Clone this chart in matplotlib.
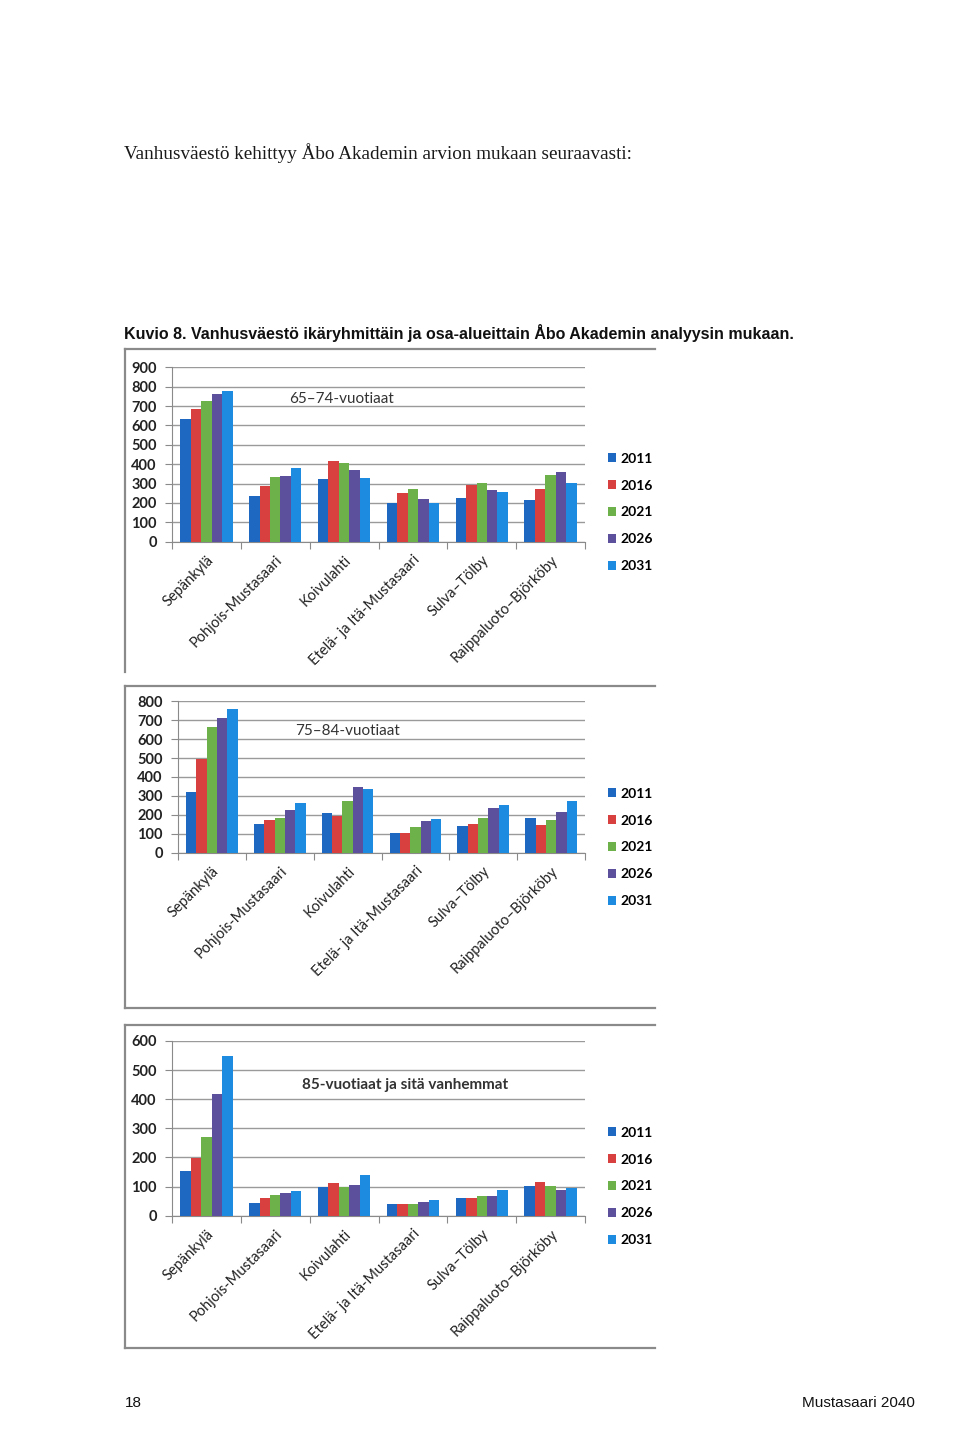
import matplotlib
matplotlib.use("Agg")
import matplotlib.pyplot as plt
import numpy as np
from matplotlib.lines import Line2D

W, H = 960, 1437

areas = ["Sepänkylä", "Pohjois-Mustasaari", "Koivulahti",
         "Etelä- ja Itä-Mustasaari", "Sulva–Tölby", "Raippaluoto–Björköby"]
years = ["2011", "2016", "2021", "2026", "2031"]
colors = ["#1f68c1", "#d8403f", "#6cb14a", "#5c4f9c", "#1d8be0"]

# 65–74-vuotiaat, rows = years, cols = areas
age65_74 = {
    "2011": [633, 236, 324, 201, 225, 213],
    "2016": [683, 287, 417, 253, 293, 270],
    "2021": [726, 334, 408, 270, 305, 346],
    "2026": [761, 339, 368, 219, 267, 358],
    "2031": [778, 380, 329, 201, 258, 305],
}
age75_84 = {
    "2011": [319, 152, 211, 104, 143, 185],
    "2016": [493, 171, 196, 106, 153, 148],
    "2021": [664, 183, 273, 137, 181, 171],
    "2026": [712, 224, 345, 166, 238, 213],
    "2031": [761, 261, 337, 180, 250, 275],
}
age85 = {
    "2011": [155, 44, 100, 41, 60, 101],
    "2016": [199, 62, 113, 41, 62, 115],
    "2021": [270, 71, 100, 41, 68, 103],
    "2026": [417, 78, 105, 46, 68, 87],
    "2031": [548, 86, 141, 53, 87, 95],
}

titles = ["65–74-vuotiaat", "75–84-vuotiaat", "85-vuotiaat ja sitä vanhemmat"]
ymax = [900, 800, 600]
datasets = [age65_74, age75_84, age85]

fig = plt.figure(figsize=(W / 100, H / 100), dpi=100)
fig.patch.set_facecolor("white")

def fx(x):
    return x / W

def fy(y):
    return 1 - y / H

def add_ax(x0, y0, x1, y1):
    return fig.add_axes([fx(x0), fy(y1), (x1 - x0) / W, (y1 - y0) / H])

def fline(xs, ys, color="#8a8a8a", lw=1.6):
    fig.add_artist(Line2D([fx(x) for x in xs], [fy(y) for y in ys],
                          transform=fig.transFigure, color=color, lw=lw))

# page text
fig.text(fx(124), fy(153), "Vanhusväestö kehittyy Åbo Akademin arvion mukaan seuraavasti:",
         family="Liberation Serif", fontsize=13.75, va="center", ha="left", color="#1a1a1a")
fig.text(fx(124), fy(333), "Kuvio 8. Vanhusväestö ikäryhmittäin ja osa-alueittain Åbo Akademin analyysin mukaan.",
         family="Liberation Sans", fontweight="bold", fontsize=11.5, va="center", ha="left",
         color="#111111")
fig.text(fx(125), fy(1403), "18", family="Liberation Sans", fontsize=11, va="center", ha="left",
         color="#111111")
fig.text(fx(915), fy(1403), "Mustasaari 2040", family="Liberation Sans", fontsize=11,
         va="center", ha="right", color="#111111")

# frames
fline([125, 655], [349, 349])
fline([125, 125], [349, 672])
fline([125, 655], [686, 686])
fline([125, 125], [686, 1008])
fline([125, 655], [1008, 1008])
fline([125, 655], [1025, 1025])
fline([125, 125], [1025, 1348])
fline([125, 655], [1348, 1348])

axes_px = [(172, 367.3, 585, 541.7), (178, 701.3, 585, 852.7), (172, 1041, 585, 1215.7)]
title_pos = [(341, 399), (348, 731), (405, 1085)]
legend_top = [443, 778, 1117]

x = np.arange(len(areas))
bw = 0.152
for k in range(3):
    ax = add_ax(*axes_px[k])
    data = datasets[k]
    handles = []
    for i, yr in enumerate(years):
        h = ax.bar(x + (i - 2) * bw, data[yr], width=bw, color=colors[i],
                   zorder=3, linewidth=0, label=yr)
        handles.append(h)
    ax.set_xlim(-0.5, len(areas) - 0.5)
    ax.set_ylim(0, ymax[k])
    ax.set_yticks(np.arange(0, ymax[k] + 1, 100))
    ax.yaxis.grid(True, color="#9a9a9a", lw=1.0, zorder=0)
    ax.set_axisbelow(True)
    for s in ["top", "right"]:
        ax.spines[s].set_visible(False)
    ax.spines["left"].set_color("#8a8a8a")
    ax.spines["bottom"].set_color("#8a8a8a")
    ax.set_xticks(np.arange(-0.5, len(areas) + 0.5, 1.0))
    ax.set_xticklabels([])
    ax.set_xticks(x, minor=True)
    ax.set_xticklabels(areas, minor=True, rotation=45, ha="right",
                       rotation_mode="anchor", family="Lato", fontsize=10.5,
                       color="#222222")
    ax.tick_params(axis="x", which="major", length=5, color="#8a8a8a", direction="out")
    ax.tick_params(axis="x", which="minor", length=0, pad=8)
    ax.tick_params(axis="y", length=5, color="#8a8a8a", direction="out", pad=6)
    for lab in ax.get_yticklabels():
        lab.set_family("Lato")
        lab.set_fontweight("bold")
        lab.set_fontsize(10.5)
        lab.set_color("#222222")
    fig.text(fx(title_pos[k][0]), fy(title_pos[k][1]), titles[k], family="Lato",
             fontsize=11, ha="center", va="center", color="#333333",
             fontweight="bold" if k == 2 else "normal")
    fig.legend(handles=handles, labels=years, loc="upper left",
               bbox_to_anchor=(fx(598), fy(legend_top[k])), frameon=False,
               handlelength=0.6, handleheight=0.6, handletextpad=0.3,
               labelspacing=1.07, borderpad=0.2,
               prop={"family": "Lato", "weight": "bold", "size": 10})

fig.savefig("out.png", dpi=100, facecolor="white")
